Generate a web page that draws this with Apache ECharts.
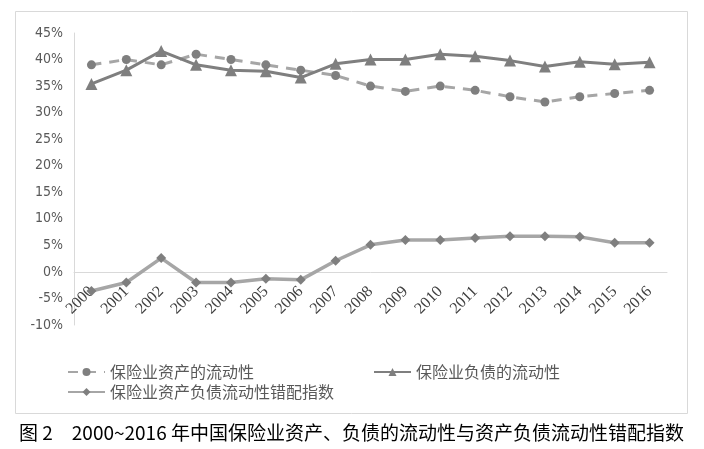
<!DOCTYPE html>
<html>
<head>
<meta charset="utf-8">
<script src="https://cdn.jsdelivr.net/npm/echarts@6/dist/echarts.min.js"></script>
<style>
html,body{margin:0;padding:0;background:#fff;}
#chart{width:704px;height:449px;}
</style>
</head>
<body>
<div id="chart"></div>
<script>
// 数据
var years = ['2000','2001','2002','2003','2004','2005','2006','2007','2008',
    '2009','2010','2011','2012','2013','2014','2015','2016'];
var assetLiq = [39, 40, 39, 41, 40, 39, 38, 37, 35, 34, 35, 34.2, 33, 32, 33, 33.6, 34.2];
var debtLiq = [35.4, 38, 41.6, 39, 38, 37.8, 36.6, 39.2, 40, 40, 41, 40.6, 39.8, 38.7, 39.6, 39.1, 39.5];
var mismatch = [-3.6, -2, 2.6, -2, -2, -1.3, -1.5, 2.1, 5.1, 6, 6, 6.4, 6.7, 6.7, 6.6, 5.5, 5.5];
var names = ['保险业资产的流动性', '保险业负债的流动性', '保险业资产负债流动性错配指数'];
var caption = '图 2\u30002000~2016 年中国保险业资产、负债的流动性与资产负债流动性错配指数';

var cjk = '"Noto Sans CJK SC", sans-serif';
var legendText = {color: '#595959', fontSize: 16, fontFamily: cjk};

var myChart = echarts.init(document.getElementById('chart'));
var option = {
    backgroundColor: '#fff',
    animation: false,
    title: {
        text: caption,
        left: 14,
        top: 418,
        textStyle: {color: '#000', fontSize: 19, fontWeight: 'normal', fontFamily: cjk}
    },
    graphic: [{
        type: 'rect',
        shape: {x: 15.5, y: 11.5, width: 672, height: 402},
        style: {fill: null, stroke: '#d9d9d9', lineWidth: 1}
    }],
    legend: [
        {data: [names[0]], left: 62, top: 359, itemWidth: 37, itemHeight: 10, textStyle: legendText},
        {data: [names[1]], left: 368, top: 359, itemWidth: 37, itemHeight: 10, textStyle: legendText},
        {data: [names[2]], left: 62, top: 379, itemWidth: 37, itemHeight: 10, textStyle: legendText}
    ],
    grid: {left: 74, right: 37, top: 33, bottom: 124},
    xAxis: {
        type: 'category',
        data: years,
        boundaryGap: true,
        axisLine: {onZero: true, lineStyle: {color: '#d9d9d9', width: 1}},
        axisTick: {show: false},
        axisLabel: {
            rotate: 45,
            interval: 0,
            margin: -36,
            color: '#404040',
            fontSize: 16,
            fontFamily: '"Liberation Serif", serif'
        }
    },
    yAxis: {
        type: 'value',
        min: -10,
        max: 45,
        interval: 5,
        axisLine: {show: true, lineStyle: {color: '#d9d9d9', width: 1}},
        axisTick: {show: false},
        splitLine: {show: false},
        axisLabel: {
            formatter: '{value}%',
            margin: 11,
            color: '#595959',
            fontSize: 14,
            fontFamily: '"Liberation Sans Narrow", "DejaVu Sans Condensed", sans-serif'
        }
    },
    series: [
        {
            name: names[0],
            type: 'line',
            data: assetLiq,
            symbol: 'circle',
            symbolSize: 9,
            itemStyle: {color: '#7f7f7f'},
            lineStyle: {color: '#a6a6a6', width: 3, type: [10, 8]},
            z: 2
        },
        {
            name: names[1],
            type: 'line',
            data: debtLiq,
            symbol: 'triangle',
            symbolSize: 12,
            itemStyle: {color: '#7f7f7f'},
            lineStyle: {color: '#7f7f7f', width: 3},
            z: 3
        },
        {
            name: names[2],
            type: 'line',
            data: mismatch,
            symbol: 'diamond',
            symbolSize: 10,
            itemStyle: {color: '#7f7f7f'},
            lineStyle: {color: '#a6a6a6', width: 3.5}
        }
    ]
};
myChart.setOption(option);

window.onresize = function(){
    myChart.resize();
};
</script>
</body>
</html>
